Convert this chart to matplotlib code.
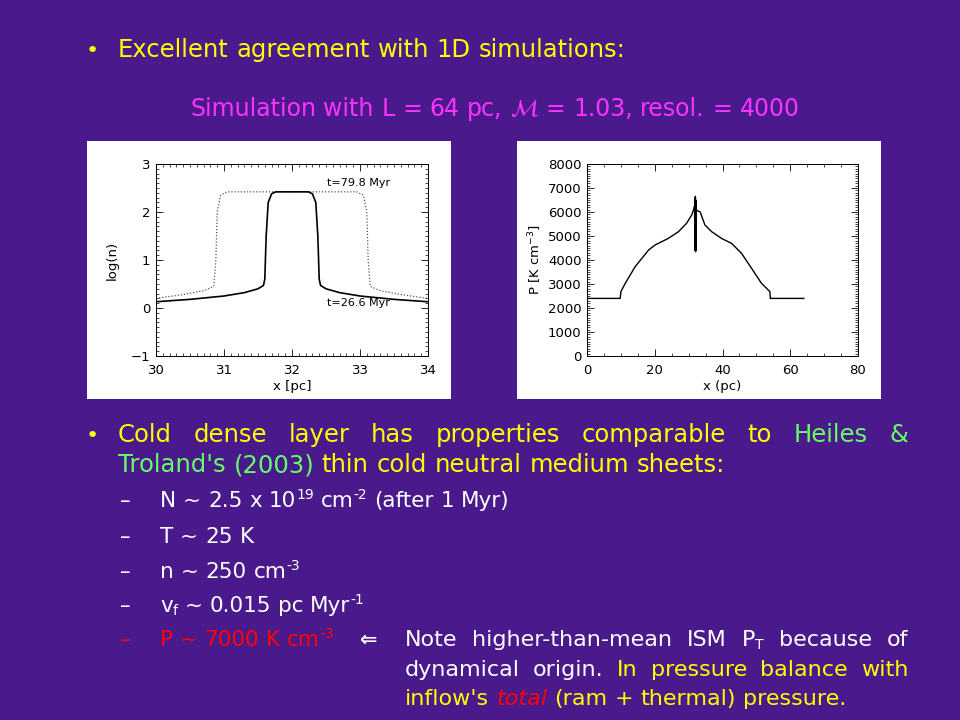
import matplotlib
matplotlib.use("Agg")
import matplotlib.pyplot as plt
from matplotlib.patches import Rectangle
from matplotlib.ticker import MultipleLocator

# density profiles (log n vs x in pc)
x_late = [30.0, 30.4, 30.7, 30.85, 30.88, 30.9, 30.95, 31.05, 32.95, 33.05, 33.1, 33.12, 33.15, 33.3, 33.6, 34.0]
logn_late = [0.2, 0.28, 0.36, 0.45, 1.0, 2.0, 2.35, 2.42, 2.42, 2.35, 2.0, 1.0, 0.45, 0.36, 0.28, 0.2]
x_early = [30.0, 30.5, 31.0, 31.3, 31.5, 31.58, 31.6, 31.62, 31.65, 31.7, 31.76,
           32.24, 32.3, 32.35, 32.38, 32.4, 32.42, 32.5, 32.7, 33.0, 33.5, 34.0]
logn_early = [0.13, 0.18, 0.25, 0.32, 0.40, 0.47, 0.6, 1.5, 2.2, 2.38, 2.42,
              2.42, 2.38, 2.2, 1.5, 0.6, 0.47, 0.40, 0.32, 0.25, 0.18, 0.13]
label_late = "t=79.8 Myr"
label_early = "t=26.6 Myr"

# pressure profile
x_p = [0, 9.8, 10.0, 11.3, 14.2, 18.2, 20.1, 24.0, 27.0, 29.4, 30.9, 31.6, 31.75, 31.8, 31.85,
       31.9, 31.95, 32.0, 32.05, 32.1, 32.15, 32.2, 32.25, 32.6, 33.4, 34.8, 36.8, 39.7, 42.7,
       45.6, 48.6, 51.5, 54.0, 54.1, 64.0]
p_vals = [2400, 2400, 2680, 3030, 3720, 4420, 4625, 4900, 5180, 5530, 5875, 6150, 6250, 5200, 6200,
          6600, 4400, 6650, 4350, 6500, 4400, 6400, 6100, 6050, 6010, 5460, 5180, 4900, 4690,
          4280, 3650, 3030, 2680, 2400, 2400]

BG = "#4A1A8C"
YEL = "#FFFF00"
GRN = "#66FF66"
MAG = "#FF33FF"
WHT = "#FFFFFF"
RED = "#FF0000"

plt.rcParams["font.family"] = ["DejaVu Sans"]
plt.rcParams["mathtext.fontset"] = "dejavusans"

W, H = 960, 720
fig = plt.figure(figsize=(9.6, 7.2), dpi=100, facecolor=BG)
renderer = fig.canvas.get_renderer()


def px(x, y):
    return x / W, 1 - y / H


def put_line(words, x0, y, size, x1=None):
    # words: list of (text, color, options); options may hold style, size, dy, attach
    objs = []
    for text, color, opt in words:
        t = fig.text(*px(x0, y), text, color=color, fontsize=opt.get("size", size),
                     style=opt.get("style", "normal"), va="baseline", ha="left")
        objs.append(t)
    widths = [t.get_window_extent(renderer).width for t in objs]
    a = fig.text(0, 0, "a a", fontsize=size)
    b = fig.text(0, 0, "aa", fontsize=size)
    space = a.get_window_extent(renderer).width - b.get_window_extent(renderer).width
    a.remove()
    b.remove()
    n_gaps = sum(1 for _, _, o in words[1:] if not o.get("attach"))
    if x1 is not None and n_gaps > 0:
        space = (x1 - x0 - sum(widths)) / n_gaps
    x = x0
    for i, (t, w) in enumerate(zip(objs, widths)):
        opt = words[i][2]
        if i > 0 and not opt.get("attach"):
            x += space
        t.set_position(px(x, y + opt.get("dy", 0)))
        x += w


def plain(text, color, **kw):
    return [(w, color, dict(kw)) for w in text.split()]


def sup(text, color, size, raise_by=-8):
    return (text, color, {"attach": True, "size": size, "dy": raise_by})


# panels
for left in (87, 517):
    fig.patches.append(Rectangle(px(left, 399), 364 / W, 258 / H, transform=fig.transFigure,
                                 facecolor="white", edgecolor="none", zorder=-5))

ax1 = fig.add_axes([156 / W, 1 - 356 / H, 272 / W, 192 / H])
ax1.plot(x_late, logn_late, color="#555555", lw=0.9, ls=(0, (1, 1.5)))
ax1.plot(x_early, logn_early, color="black", lw=1.2)
ax1.text(32.51, 2.6, label_late, fontsize=8, va="center")
ax1.text(32.51, 0.1, label_early, fontsize=8, va="center")
ax1.set_xlim(30, 34)
ax1.set_ylim(-1, 3)
ax1.xaxis.set_major_locator(MultipleLocator(1))
ax1.xaxis.set_minor_locator(MultipleLocator(0.1))
ax1.yaxis.set_major_locator(MultipleLocator(1))
ax1.yaxis.set_minor_locator(MultipleLocator(0.1))
ax1.set_xlabel("x [pc]", fontsize=9.5, labelpad=2)
ax1.set_ylabel("log(n)", fontsize=9.5, labelpad=9)

ax2 = fig.add_axes([587 / W, 1 - 356 / H, 271 / W, 192 / H])
ax2.plot(x_p, p_vals, color="black", lw=1.0)
ax2.set_xlim(0, 80)
ax2.set_ylim(0, 8000)
ax2.xaxis.set_major_locator(MultipleLocator(20))
ax2.xaxis.set_minor_locator(MultipleLocator(5))
ax2.yaxis.set_major_locator(MultipleLocator(1000))
ax2.yaxis.set_minor_locator(MultipleLocator(100))
ax2.set_xlabel("x (pc)", fontsize=9.5, labelpad=2)
ax2.set_ylabel("P [K cm$^{-3}$]", fontsize=9.5, labelpad=3)

for ax in (ax1, ax2):
    ax.set_facecolor("white")
    ax.tick_params(which="both", direction="in", top=True, right=True, labelsize=9.5)
    ax.tick_params(axis="x", which="major", pad=6)
    ax.tick_params(axis="y", which="major", pad=4)
    ax.tick_params(which="major", length=5, width=0.6)
    ax.tick_params(which="minor", length=2.5, width=0.5)
    for s in ax.spines.values():
        s.set_linewidth(0.7)

# slide text
fig.text(*px(86, 57), "•", color=YEL, fontsize=16, va="baseline")
put_line(plain("Excellent agreement with 1D simulations:", YEL), 118, 57, 17.5)
put_line(plain("Simulation with L = 64 pc,", MAG) + [(r"$\mathcal{M}$", MAG, {})]
         + plain("= 1.03, resol. = 4000", MAG), 190, 116, 17)

fig.text(*px(86, 442), "•", color=YEL, fontsize=16, va="baseline")
put_line(plain("Cold dense layer has properties comparable to", YEL) + plain("Heiles &", GRN),
         118, 442, 17.5, x1=908)
put_line(plain("Troland's (2003)", GRN) + plain("thin cold neutral medium sheets:", YEL),
         118, 472, 17.5)

SZ = 15.5
SUP = 10
sub_rows = [
    (507, WHT, plain("N ~ 2.5 x 10", WHT) + [sup("19", WHT, SUP)] + plain("cm", WHT)
     + [sup("-2", WHT, SUP)] + plain("(after 1 Myr)", WHT)),
    (543, WHT, plain("T ~ 25 K", WHT)),
    (578, WHT, plain("n ~ 250 cm", WHT) + [sup("-3", WHT, SUP)]),
    (612, WHT, plain("v", WHT) + [sup("f", WHT, SUP, raise_by=3)] + plain("~ 0.015 pc Myr", WHT)
     + [sup("-1", WHT, SUP)]),
    (646, RED, plain("P ~ 7000 K cm", RED) + [sup("-3", RED, SUP)]),
]
for y, col, words in sub_rows:
    fig.text(*px(120, y), "–", color=col, fontsize=SZ, va="baseline")
    put_line(words, 160, y, SZ)

fig.text(*px(360, 646), "⇐", color=WHT, fontsize=15, va="baseline", weight="bold")
put_line(plain("Note higher-than-mean ISM P", WHT) + [sup("T", WHT, SUP, raise_by=3)]
         + plain("because of", WHT), 405, 646, 16, x1=908)
put_line(plain("dynamical origin.", WHT) + plain("In pressure balance with", YEL),
         405, 676, 16, x1=908)
put_line(plain("inflow's", YEL) + plain("total", RED, style="italic")
         + plain("(ram + thermal) pressure.", YEL), 405, 705, 16)

fig.savefig("out.png", dpi=100, facecolor=BG)
